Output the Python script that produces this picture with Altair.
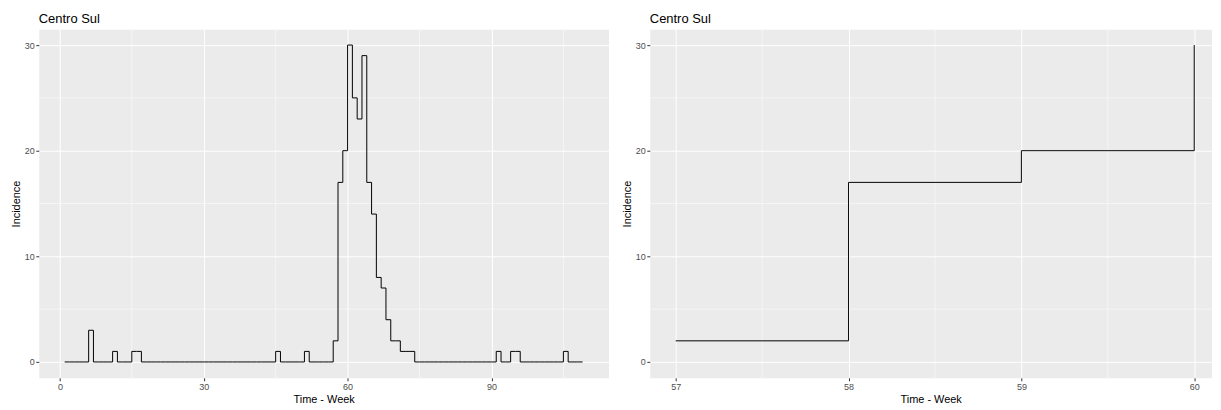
import altair as alt
import pandas as pd

# ---- data ----
weeks = list(range(1, 110))
incidence = [0, 0, 0, 0, 0, 3, 0, 0, 0, 0,        # 1-10
             1, 0, 0, 0, 1, 1, 0, 0, 0, 0,        # 11-20
             0, 0, 0, 0, 0, 0, 0, 0, 0, 0,        # 21-30
             0, 0, 0, 0, 0, 0, 0, 0, 0, 0,        # 31-40
             0, 0, 0, 0, 1, 0, 0, 0, 0, 0,        # 41-50
             1, 0, 0, 0, 0, 0, 2, 17, 20, 30,     # 51-60
             25, 23, 29, 17, 14, 8, 7, 4, 2, 2,   # 61-70
             1, 1, 1, 0, 0, 0, 0, 0, 0, 0,        # 71-80
             0, 0, 0, 0, 0, 0, 0, 0, 0, 0,        # 81-90
             1, 0, 0, 1, 1, 0, 0, 0, 0, 0,        # 91-100
             0, 0, 0, 0, 1, 0, 0, 0, 0]           # 101-109

zoom_start, zoom_end = 57, 60

left_x_major = [0, 30, 60, 90]
left_x_minor = [15, 45, 75, 105]
right_x_major = [57, 58, 59, 60]
right_x_minor = [57.5, 58.5, 59.5]
y_major = [0, 10, 20, 30]
y_minor = [5, 15, 25]

title_text = "Centro Sul"
x_title = "Time - Week"
y_title = "Incidence"

FONT = "Liberation Sans"

df = pd.DataFrame({"week": weeks, "incidence": incidence})
df_zoom = df[(df.week >= zoom_start) & (df.week <= zoom_end)]

y_scale = alt.Scale(domain=[-1.5, 31.5], nice=False, zero=False)
y_axis = alt.Axis(values=y_major, format="d", title=y_title)

H = 350


def panel(data, x_domain, x_major, x_minor, width):
    x_scale = alt.Scale(domain=x_domain, nice=False, zero=False)
    x_axis = alt.Axis(values=x_major, format="d", title=x_title)
    vminor = alt.Chart(pd.DataFrame({"v": x_minor})).mark_rule(
        color="white", strokeWidth=0.5
    ).encode(x=alt.X("v:Q", scale=x_scale, axis=x_axis))
    hminor = alt.Chart(pd.DataFrame({"v": y_minor})).mark_rule(
        color="white", strokeWidth=0.5
    ).encode(y=alt.Y("v:Q", scale=y_scale, axis=y_axis))
    line = alt.Chart(data).mark_line(
        interpolate="step-after", color="black", strokeWidth=1, clip=True
    ).encode(
        x=alt.X("week:Q", scale=x_scale, axis=x_axis),
        y=alt.Y("incidence:Q", scale=y_scale, axis=y_axis),
    )
    return alt.layer(vminor, hminor, line).properties(
        width=width, height=H,
        title=alt.TitleParams(title_text, anchor="start", frame="group",
                              fontSize=13, fontWeight="normal", font=FONT,
                              color="black", offset=3),
    )


left = panel(df, [-4.4, 114.4], left_x_major, left_x_minor, 572)
right = panel(df_zoom, [56.85, 60.1], right_x_major, right_x_minor, 564)

chart = alt.hconcat(left, right, spacing=11.5).properties(
    padding={"left": 1.9, "top": 3.5, "right": 0, "bottom": -2}
).configure_view(
    fill="#EBEBEB", stroke="transparent"
).configure_axis(
    domain=False, labelFont=FONT, labelFontSize=9, labelColor="#4D4D4D",
    tickColor="#333333", tickSize=3, tickWidth=1,
    gridColor="white", gridWidth=1,
    titleFont=FONT, titleFontSize=11, titleFontWeight="normal", titleColor="black",
).configure_axisX(
    labelPadding=2, titlePadding=1.5
).configure_axisY(
    labelPadding=1.5, titlePadding=2.6
)

chart.save("out.html", embed_options={"renderer": "svg", "actions": False})
